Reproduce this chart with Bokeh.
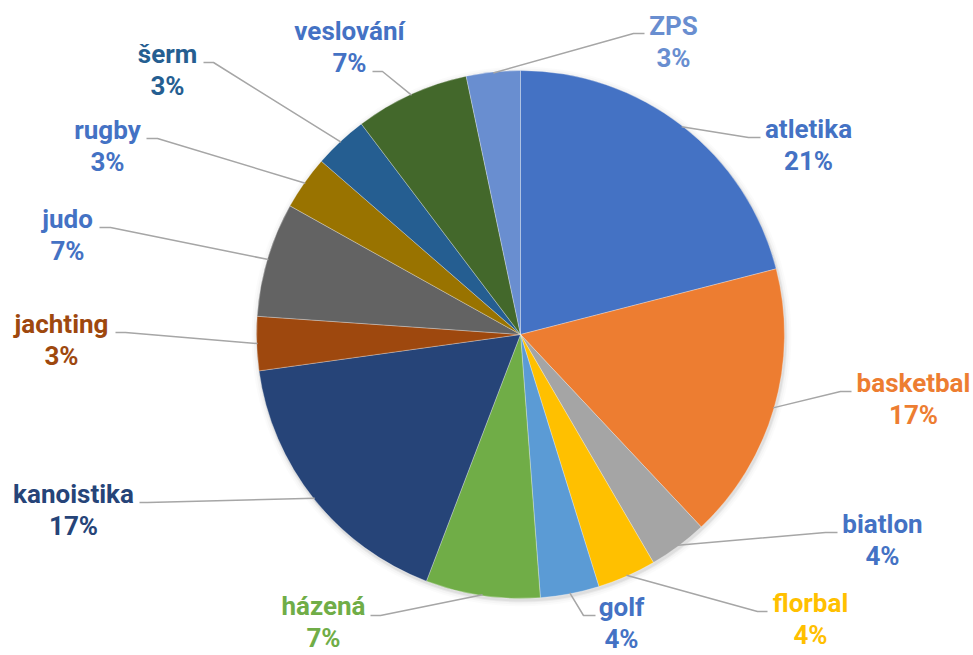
import math
from bokeh.plotting import figure
from bokeh.models import ColumnDataSource, Range1d
from bokeh.core.properties import value
from bokeh.embed import file_html
from bokeh.resources import INLINE

# ---- data ----
categories = ["atletika", "basketbal", "biatlon", "florbal", "golf", "házená",
              "kanoistika", "jachting", "judo", "rugby", "šerm", "veslování", "ZPS"]
shares = [21.0, 17.0, 3.6, 3.6, 3.6, 7.0, 17.0, 3.3, 7.0, 3.3, 3.3, 7.0, 3.3]

# ---- styles ----
slice_colors = ["#4472C4", "#ED7D31", "#A5A5A5", "#FFC000", "#5B9BD5", "#70AD47",
                "#264478", "#9E480E", "#636363", "#997300", "#255E91", "#43682B", "#698ED0"]
label_colors = ["#4472C4", "#ED7D31", "#4472C4", "#FFC000", "#4472C4", "#70AD47",
                "#264478", "#9E480E", "#4472C4", "#4472C4", "#255E91", "#4472C4", "#698ED0"]

W, H = 973, 655
def X(px):  # page pixel -> data x
    return px
def Y(py):  # page pixel -> data y
    return H - py

# label layout (page pixels): text center x, name baseline y, elbow (x,y), end x
label_layout = {
    "atletika":   (808, 137, (748, 137), 760),
    "basketbal":  (913, 391, (840, 391), 851),
    "biatlon":    (882, 532, (825, 532), 837),
    "florbal":    (810, 611, (757, 611), 767),
    "golf":       (621, 615, (583, 615), 595),
    "házená":     (323, 614, (380, 615), 370),
    "kanoistika": (73, 502, (147, 502), 139),
    "jachting":   (61, 332, (125, 332), 115),
    "judo":       (67, 227, (110, 227), 99),
    "rugby":      (107, 138, (157, 138), 146),
    "šerm":       (167, 62, (213, 62), 203),
    "veslování":  (349, 39, (382, 71), 372),
    "ZPS":        (673, 34, (633, 33), 644),
}
LINE_GAP = 32
TEXT_SHIFT = -9

cx, cy, R = X(520), Y(334), 264

total = sum(shares)
starts, ends, mids = [], [], []
acc = 0.0
for v in shares:
    a0 = math.pi / 2 - 2 * math.pi * acc / total
    acc += v
    a1 = math.pi / 2 - 2 * math.pi * acc / total
    starts.append(a0)
    ends.append(a1)
    mids.append((a0 + a1) / 2)

p = figure(width=W, height=H, output_backend="svg", toolbar_location=None,
           x_range=Range1d(0, W), y_range=Range1d(0, H), min_border=0)
p.axis.visible = False
p.grid.visible = False
p.outline_line_color = None
p.background_fill_color = "white"

# soft shadow
for k, a in [(6, 0.015), (4, 0.025), (2, 0.04), (1, 0.05)]:
    p.circle(x=[cx + 1], y=[cy - 2], radius=R + k, fill_color="black",
             fill_alpha=a, line_color=None)

src = ColumnDataSource(dict(start=starts, end=ends, color=slice_colors))
p.wedge(x=cx, y=cy, radius=R, start_angle="start", end_angle="end",
        direction="clock", fill_color="color", line_color="white",
        line_width=0.6, line_alpha=0.5, source=src)

# leader lines
for i, name in enumerate(categories):
    tx, by, (ex, ey), endx = label_layout[name]
    ax = cx + (R - 1) * math.cos(mids[i])
    ay = cy + (R - 1) * math.sin(mids[i])
    p.line(x=[ax, X(ex), X(endx)], y=[ay, Y(ey), Y(ey)],
           line_color="#A6A6A6", line_width=1.5)

# labels
names_x, names_y, pct_y, pct_txt = [], [], [], []
for i, name in enumerate(categories):
    tx, by, _, _ = label_layout[name]
    names_x.append(X(tx))
    names_y.append(Y(by + TEXT_SHIFT))
    pct_y.append(Y(by + LINE_GAP + TEXT_SHIFT))
    pct_txt.append(f"{round(shares[i] / total * 100)}%")

lsrc = ColumnDataSource(dict(x=names_x, y=names_y, y2=pct_y, name=categories,
                             pct=pct_txt, color=label_colors))
for ycol, tcol in [("y", "name"), ("y2", "pct")]:
    p.text(x="x", y=ycol, text=tcol, source=lsrc, text_color="color",
           text_font=value("Roboto"), text_font_style="bold",
           text_font_size="26px", text_align="center",
           text_baseline="alphabetic")

open("out.html", "w").write(file_html(p, INLINE))
